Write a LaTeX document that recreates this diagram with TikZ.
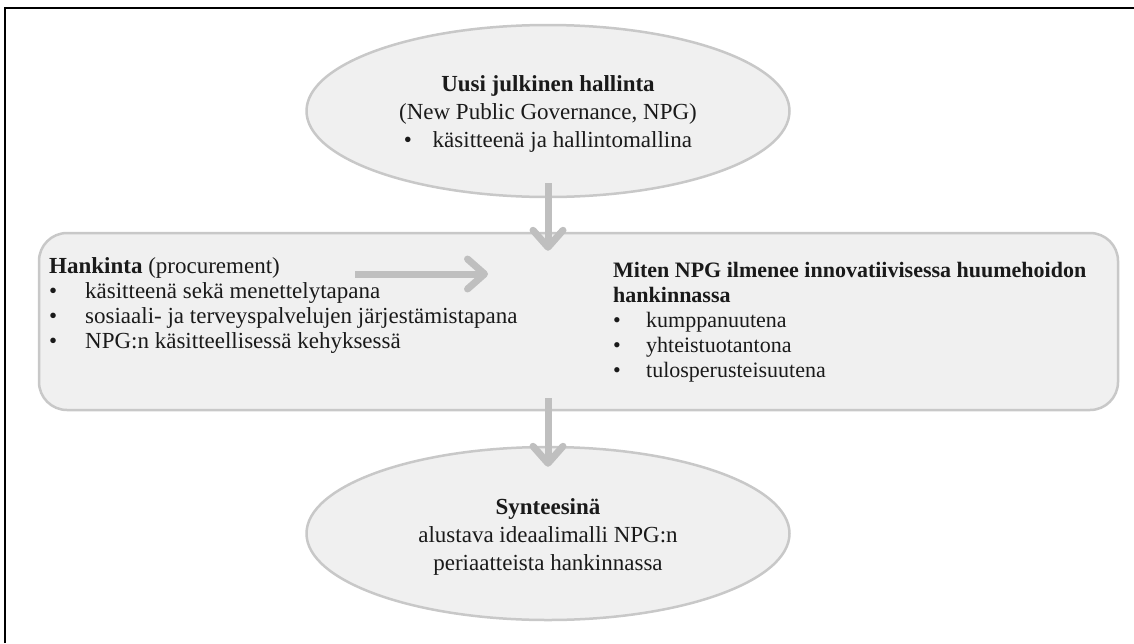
\documentclass[tikz,border=0pt]{standalone}
\usepackage{fontspec}
\setmainfont{Liberation Serif}
\usetikzlibrary{shapes.geometric,arrows.meta,calc}
\definecolor{boxfill}{HTML}{F0F0F0}
\definecolor{boxline}{HTML}{C8C8C8}
\definecolor{arrowgray}{HTML}{BFBFBF}
\definecolor{txt}{HTML}{1A1A1A}
\begin{document}
\begin{tikzpicture}[x=1pt,y=-1pt,
  shapebox/.style={fill=boxfill,draw=boxline,line width=2.5pt},
  grayarrow/.style={draw=arrowgray,line width=7pt,-{Straight Barb[length=17pt,width=30pt,round]}},
  ellfont/.style={font=\fontsize{23}{28}\selectfont, text=txt},
  leftfont/.style={font=\fontsize{23}{25}\selectfont, text=txt},
  rightfont/.style={font=\fontsize{22}{25}\selectfont, text=txt}]
\useasboundingbox (0,0) rectangle (1134,643);
\draw[line width=2.5pt, black] (5,643) -- (5,8) -- (1134,8);

\node[ellipse, shapebox, minimum width=483pt, minimum height=172pt, inner sep=0pt] (top) at (548,111) {};
\node[align=center, ellfont, inner sep=0pt] (toptext) at (548,114)
  {\textbf{Uusi julkinen hallinta}\\(New Public Governance, NPG)\\\textbullet\hspace{0.9em}käsitteenä ja hallintomallina};

\node[rectangle, rounded corners=28pt, shapebox, minimum width=1079pt, minimum height=177pt, inner sep=0pt] (mid) at (578.5,321.5) {};

\node[anchor=north west, align=left, leftfont, inner sep=0pt] (lt) at (49,257)
  {\textbf{Hankinta} (procurement)\\
   \makebox[36pt][l]{\textbullet}käsitteenä sekä menettelytapana\\
   \makebox[36pt][l]{\textbullet}sosiaali- ja terveyspalvelujen järjestämistapana\\
   \makebox[36pt][l]{\textbullet}NPG:n käsitteellisessä kehyksessä};

\node[anchor=north west, align=left, rightfont, inner sep=0pt] (rt) at (613,262)
  {\textbf{Miten NPG ilmenee innovatiivisessa huumehoidon}\\
   \textbf{hankinnassa}\\
   \makebox[33pt][l]{\textbullet}kumppanuutena\\
   \makebox[33pt][l]{\textbullet}yhteistuotantona\\
   \makebox[33pt][l]{\textbullet}tulosperusteisuutena};

\node[ellipse, shapebox, minimum width=483pt, minimum height=173pt, inner sep=0pt] (bot) at (548,533.5) {};
\node[align=center, ellfont, inner sep=0pt] (bottext) at (548,536.5)
  {\textbf{Synteesinä}\\alustava ideaalimalli NPG:n\\periaatteista hankinnassa};

\coordinate (ha) at (355,274);
\coordinate (hb) at (488,274);
\draw[grayarrow] ($(top.south)+(0,-15)$) -- ($(top.south |- mid.north)+(0,19)$);
\draw[grayarrow] ($(top.south |- mid.south)+(0,-13)$) -- ($(bot.north)+(0,21)$);
\draw[grayarrow] (ha) -- (hb);
\end{tikzpicture}
\end{document}
